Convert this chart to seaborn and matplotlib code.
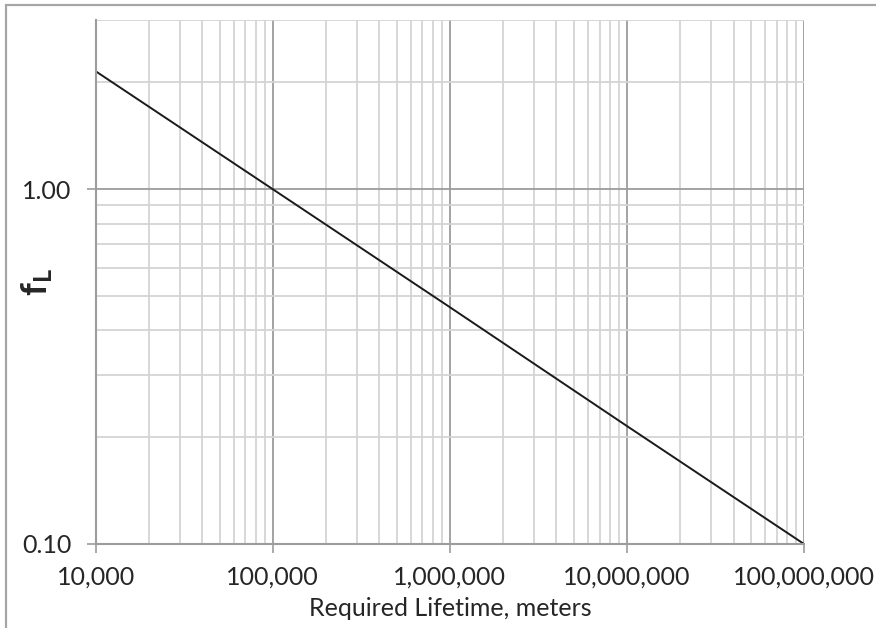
import numpy as np
import pandas as pd
import matplotlib
matplotlib.use("Agg")
import matplotlib.pyplot as plt
import matplotlib.ticker as mticker
from matplotlib.patches import Rectangle
import seaborn as sns

# Data (life factor vs required lifetime)
lifetime_m = [10000, 100000, 1000000, 10000000, 100000000]
f_l = [2.15, 1.00, 0.465, 0.215, 0.10]

x_ticks = [10000, 100000, 1000000, 10000000, 100000000]
y_ticks = [0.10, 1.00]

df = pd.DataFrame({"lifetime": lifetime_m, "fl": f_l})

sns.set_style("white")
plt.rcParams["font.family"] = ["Lato", "DejaVu Sans"]
plt.rcParams["mathtext.fontset"] = "custom"
plt.rcParams["mathtext.rm"] = "Lato"
plt.rcParams["mathtext.bf"] = "Lato:bold"
plt.rcParams["mathtext.it"] = "Lato:italic"

MAJOR = "#9c9c9c"
MINOR = "#d4d4d4"
TEXT = "#262626"

fig = plt.figure(figsize=(8.76, 6.28), dpi=100)
ax = fig.add_axes([0.1093, 0.1338, 0.9178 - 0.1093, 0.9682 - 0.1338])

sns.lineplot(data=df, x="lifetime", y="fl", color="#1a1a1a", linewidth=1.4, ax=ax)

ax.set_xscale("log")
ax.set_yscale("log")
ax.set_xlim(1e4, 1e8)
ax.set_ylim(0.1, 3.0)

# ticks
ax.xaxis.set_major_locator(mticker.FixedLocator(x_ticks))
ax.xaxis.set_minor_locator(mticker.LogLocator(base=10, subs=np.arange(2, 10)))
ax.xaxis.set_major_formatter(mticker.FuncFormatter(lambda v, p: f"{v:,.0f}"))
ax.xaxis.set_minor_formatter(mticker.NullFormatter())
ax.yaxis.set_major_locator(mticker.FixedLocator(y_ticks))
ax.yaxis.set_minor_locator(mticker.LogLocator(base=10, subs=np.arange(2, 10)))
ax.yaxis.set_major_formatter(mticker.FuncFormatter(lambda v, p: f"{v:.2f}"))
ax.yaxis.set_minor_formatter(mticker.NullFormatter())

ax.tick_params(axis="both", which="major", direction="out", length=6.5, width=1.2,
               color=MAJOR, labelsize=18, labelcolor=TEXT,
               bottom=True, left=True)
ax.tick_params(axis="both", which="minor", length=0)
ax.tick_params(axis="y", which="major", pad=11)
ax.tick_params(axis="x", which="major", pad=9)

# gridlines
ax.grid(True, which="major", color=MAJOR, linewidth=1.3)
ax.grid(True, which="minor", color=MINOR, linewidth=1.3)
ax.set_axisbelow(True)

for side in ["top", "right"]:
    ax.spines[side].set_visible(False)
for side in ["left", "bottom"]:
    ax.spines[side].set_color(MAJOR)
    ax.spines[side].set_linewidth(1.5)

ax.set_xlabel("Required Lifetime, meters", fontsize=18, color=TEXT, labelpad=6)
ax.set_ylabel(r"$\mathbf{f_L}$", fontsize=26, color=TEXT)
ax.yaxis.set_label_coords(-0.058, 0.5)

# outer chart border (right and bottom edges fall outside the image)
fig.patches.append(Rectangle((5.5 / 876, -0.1), 1.5, 1 - 4.5 / 628 + 0.1,
                             transform=fig.transFigure, fill=False,
                             edgecolor="#a6a6a6", linewidth=1.6))

fig.savefig("out.png", dpi=100)
